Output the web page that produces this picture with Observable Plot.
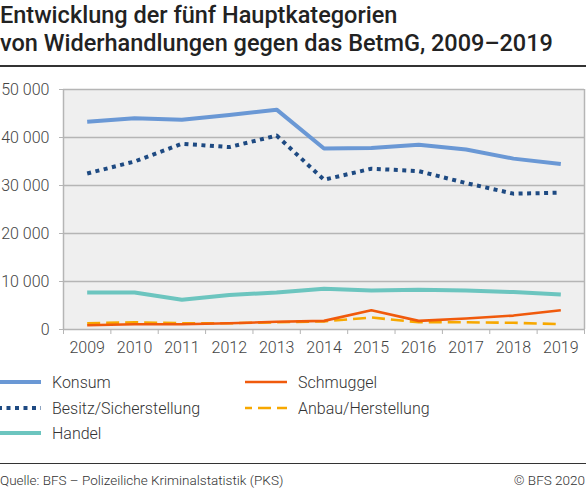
<!DOCTYPE html>
<html>
<head>
<meta charset="utf-8">
<script src="https://cdn.jsdelivr.net/npm/d3@7"></script>
<script src="https://cdn.jsdelivr.net/npm/@observablehq/plot@0.6"></script>
<style>
  body { margin: 0; width: 586px; height: 491px; background: #fff; font-family: Roboto, "Noto Sans", sans-serif; position: relative; overflow: hidden; }
  #title { position: absolute; left: 0; top: 1px; font-size: 23.5px; font-weight: 500; line-height: 28px; color: #222; white-space: nowrap; }
  .rule { position: absolute; left: 0; width: 586px; height: 1.5px; background: #333; }
  #chart { position: absolute; left: 0; top: 67px; }
  .leg { position: absolute; font-size: 16px; font-weight: 300; color: #333; display: flex; align-items: center; white-space: nowrap; }
  .leg svg { margin-right: 11px; }
  #source { position: absolute; left: 0; top: 472px; font-size: 13.5px; font-weight: 300; color: #333; }
  #copy { position: absolute; right: 1px; top: 472px; font-size: 13.5px; font-weight: 300; color: #333; }
</style>
</head>
<body>
<div id="title">Entwicklung der fünf Hauptkategorien<br>von Widerhandlungen gegen das BetmG, 2009–2019</div>
<div class="rule" style="top:65px"></div>
<div id="chart"></div>
<div id="legend"></div>
<div class="rule" style="top:462.5px"></div>
<div id="source">Quelle: BFS – Polizeiliche Kriminalstatistik (PKS)</div>
<div id="copy">© BFS 2020</div>
<script>
const years = [2009, 2010, 2011, 2012, 2013, 2014, 2015, 2016, 2017, 2018, 2019];
const konsum = [43300, 44000, 43700, 44700, 45800, 37700, 37800, 38500, 37500, 35600, 34500];
const besitz = [32500, 35000, 38700, 38000, 40400, 31200, 33500, 33000, 30500, 28300, 28500];
const handel = [7700, 7700, 6200, 7200, 7700, 8500, 8100, 8300, 8100, 7800, 7300];
const schmuggel = [900, 1100, 1100, 1300, 1600, 1800, 4000, 1800, 2300, 2900, 4000];
const anbau = [1300, 1500, 1300, 1300, 1500, 1700, 2500, 1500, 1500, 1400, 1100];
const yTicks = [0, 10000, 20000, 30000, 40000, 50000];

const seriesNames = ["Konsum", "Besitz/Sicherstellung", "Handel", "Schmuggel", "Anbau/Herstellung"];
const seriesValues = [konsum, besitz, handel, schmuggel, anbau];
const styles = {
  "Konsum": {stroke: "#6a98d5", strokeWidth: 4, dash: null},
  "Besitz/Sicherstellung": {stroke: "#1e4a82", strokeWidth: 4, dash: "4 4.5"},
  "Handel": {stroke: "#6cc5bf", strokeWidth: 4, dash: null},
  "Schmuggel": {stroke: "#f05a0c", strokeWidth: 2.6, dash: null},
  "Anbau/Herstellung": {stroke: "#f7a800", strokeWidth: 2.6, dash: "13 6"}
};

const fmt = d => d3.format(",")(d).replace(/,/g, " ");

const drawOrder = ["Anbau/Herstellung", "Schmuggel", "Handel", "Besitz/Sicherstellung", "Konsum"];
const lineMarks = drawOrder.map(name => {
  const vals = seriesValues[seriesNames.indexOf(name)];
  const data = years.map((y, i) => ({year: y, value: vals[i]}));
  const s = styles[name];
  return Plot.lineY(data, {x: "year", y: "value", stroke: s.stroke, strokeWidth: s.strokeWidth,
    strokeDasharray: s.dash, strokeLinecap: "butt", strokeLinejoin: "round"});
});

const chart = Plot.plot({
  width: 586,
  height: 290,
  marginTop: 22,
  marginBottom: 28,
  marginLeft: 63,
  marginRight: 2,
  style: {fontFamily: "Roboto, sans-serif", fontSize: "16px", fontWeight: 300, background: "transparent"},
  x: {type: "linear", domain: [2008.5, 2019.5]},
  y: {domain: [0, 50000]},
  marks: [
    Plot.frame({fill: "#efefef", stroke: "none"}),
    Plot.gridY(yTicks.slice(1), {stroke: "#b5b5b5", strokeOpacity: 1, strokeWidth: 1.5}),
    Plot.ruleX([2008.5, 2019.5], {stroke: "#b5b5b5", strokeWidth: 1.5}),
    Plot.ruleY([0], {stroke: "#b5b5b5", strokeWidth: 1.5}),
    Plot.axisY(yTicks, {tickSize: 4, tickPadding: 10, tickFormat: fmt, stroke: "#b5b5b5", fill: "#444", fontSize: 16, label: null}),
    Plot.axisX(years, {tickSize: 0, tickPadding: 12, tickFormat: d => String(d), fill: "#444", fontSize: 16, label: null}),
    Plot.axisX(d3.range(2008.5, 2020, 1), {tickSize: 5, tickFormat: () => "", stroke: "#b5b5b5", label: null}),
    ...lineMarks
  ]
});
document.getElementById("chart").appendChild(chart);

const legendPos = [
  {name: "Konsum", left: 0, top: 382},
  {name: "Besitz/Sicherstellung", left: 0, top: 408},
  {name: "Handel", left: 0, top: 433},
  {name: "Schmuggel", left: 245, top: 382},
  {name: "Anbau/Herstellung", left: 245, top: 408}
];
const leg = document.getElementById("legend");
legendPos.forEach(p => {
  const s = styles[p.name];
  const div = document.createElement("div");
  div.className = "leg";
  div.style.left = p.left + "px";
  div.style.top = (p.top - 10) + "px";
  div.style.height = "20px";
  const w = p.left === 0 ? 41 : 42;
  const dashAttr = s.dash ? `stroke-dasharray="${s.dash}"` : "";
  const off = p.name === "Anbau/Herstellung" ? `stroke-dashoffset="6"` : (p.name === "Besitz/Sicherstellung" ? `stroke-dashoffset="2"` : "");
  div.innerHTML = `<svg width="${w}" height="20"><line x1="0" x2="${w}" y1="10" y2="10" stroke="${s.stroke}" stroke-width="${s.strokeWidth}" ${dashAttr} ${off}/></svg><span>${p.name}</span>`;
  leg.appendChild(div);
});
</script>
</body>
</html>
